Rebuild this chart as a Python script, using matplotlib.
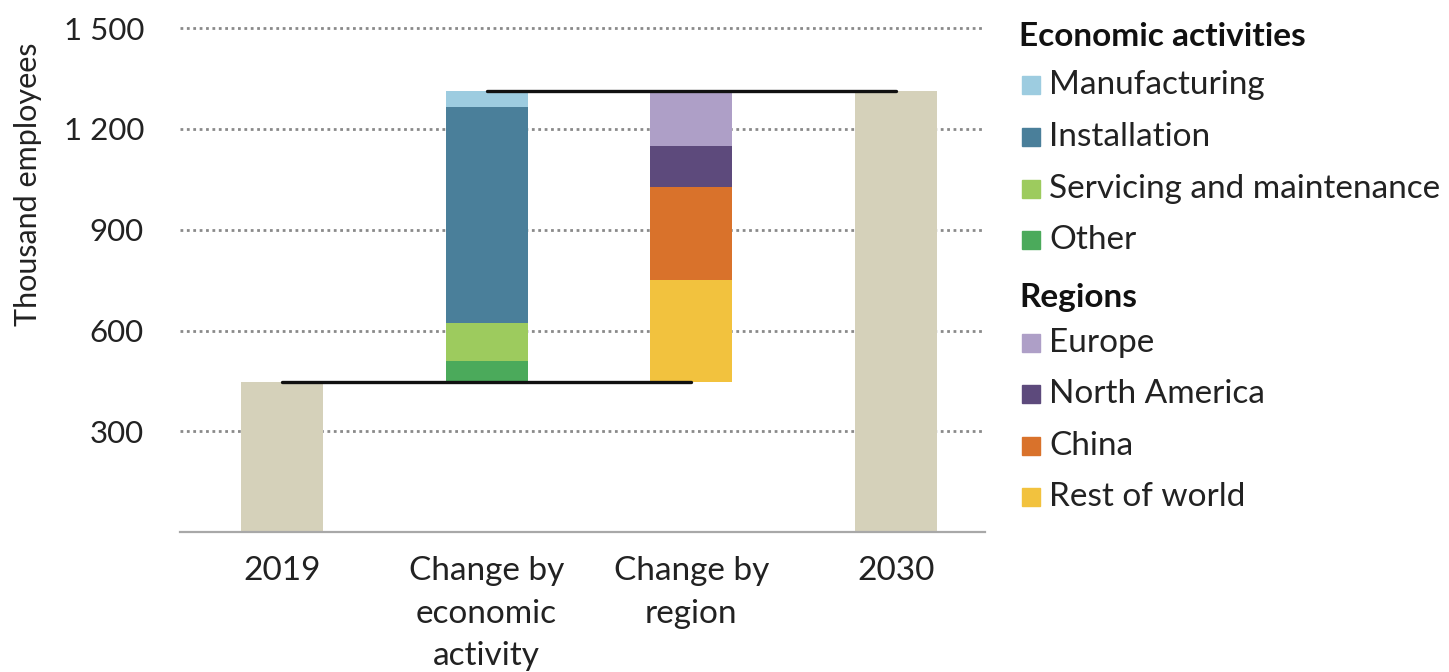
import matplotlib
matplotlib.use("Agg")
import matplotlib.pyplot as plt
from matplotlib.patches import Rectangle

plt.rcParams['font.family'] = ['Lato', 'DejaVu Sans']

# ---- data ----
categories = ["2019", "Change by\neconomic\nactivity", "Change by\nregion", "2030"]
total_2019 = 447
total_2030 = 1312

activity_labels = ["Other", "Servicing and maintenance", "Installation", "Manufacturing"]
activity_values = [63, 112, 642, 48]
activity_colors = ["#4BAA5B", "#9DCB5E", "#4A7F9A", "#9DCCE0"]

region_labels = ["Rest of world", "China", "North America", "Europe"]
region_values = [302, 278, 121, 164]
region_colors = ["#F2C23E", "#D9722B", "#5D4A7C", "#AE9FC7"]

total_color = "#D5D1BA"
yticks = [300, 600, 900, 1200, 1500]
ytick_labels = ["300", "600", "900", "1 200", "1 500"]

W, H = 1449, 672
fig = plt.figure(figsize=(W / 100, H / 100), dpi=100)
ax = fig.add_axes([180 / W, 1 - 532.3 / H, (985 - 180) / W, (532.3 - 28) / H])

x = list(range(len(categories)))
bw = 0.4
FS = 24
FS_Y = 22.5

# totals
ax.bar(x[0], total_2019, width=bw, color=total_color, zorder=2)
ax.bar(x[3], total_2030, width=bw, color=total_color, zorder=2)

# activity stack
bottom = total_2019
for v, c in zip(activity_values, activity_colors):
    ax.bar(x[1], v, bottom=bottom, width=bw, color=c, zorder=2)
    bottom += v

# region stack
bottom = total_2019
for v, c in zip(region_values, region_colors):
    ax.bar(x[2], v, bottom=bottom, width=bw, color=c, zorder=2)
    bottom += v

# connector lines
ax.plot([x[0], x[2]], [total_2019, total_2019], color="#111111", lw=2.4, zorder=3,
        solid_capstyle="round")
ax.plot([x[1], x[3]], [total_2030, total_2030], color="#111111", lw=2.4, zorder=3,
        solid_capstyle="round")

ax.set_xlim(-0.498, 3.435)
ax.set_ylim(0, 1500)
ax.set_yticks(yticks)
ax.set_yticklabels(ytick_labels, fontsize=FS_Y, color="#222222")
ax.set_xticks(x)
ax.set_xticklabels(categories, fontsize=FS, color="#222222", linespacing=1.53, va="top")
ax.tick_params(axis="y", length=0, pad=26)
ax.tick_params(axis="x", length=0, pad=17)
for yt in yticks:
    ax.axhline(yt, color="#8a8a8a", lw=2.0, linestyle=(0, (1, 1.3)), zorder=1, clip_on=False)
for s in ["top", "right", "left"]:
    ax.spines[s].set_visible(False)
ax.spines["bottom"].set_color("#a8a8a8")
ax.spines["bottom"].set_linewidth(1.6)

fig.text(28 / W, 1 - 184 / H, "Thousand employees", rotation=90, fontsize=22,
         va="center", ha="center", color="#222222")

# legend (manual)
def px(xp, yp):
    return xp / W, 1 - yp / H

def header(text, yc):
    fig.text(*px(1019, yc), text, fontsize=FS, fontweight="bold", va="center",
             ha="left", color="#111111")

def entry(text, color, yc):
    sx, sy = px(1022, yc + 9)
    fig.patches.append(Rectangle((sx, sy), 18 / W, 18 / H, transform=fig.transFigure,
                                 color=color, figure=fig))
    fig.text(*px(1049, yc), text, fontsize=FS, va="center", ha="left", color="#222222")

header("Economic activities", 36)
ys = [85, 137, 189, 240]
for lab, col, yc in zip(activity_labels[::-1], activity_colors[::-1], ys):
    entry(lab, col, yc)
header("Regions", 298)
ys = [343, 394, 446, 497]
for lab, col, yc in zip(region_labels[::-1], region_colors[::-1], ys):
    entry(lab, col, yc)

fig.savefig("out.png", dpi=100, facecolor="white")
